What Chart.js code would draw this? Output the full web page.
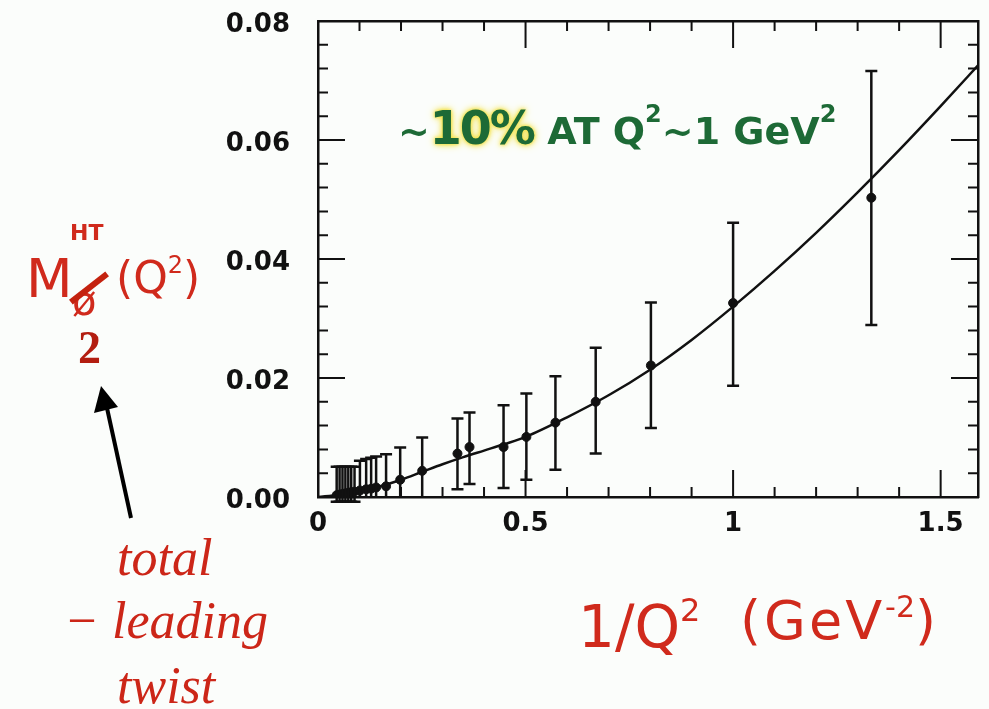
<!DOCTYPE html>
<html>
<head>
<meta charset="utf-8">
<script src="https://cdn.jsdelivr.net/npm/chart.js@4.4.1/dist/chart.umd.min.js"></script>
<style>
  html, body { margin: 0; padding: 0; background: #fbfdfb; }
  #wrap { position: relative; width: 989px; height: 709px; overflow: hidden; }
  #c { position: absolute; left: 0; top: 0; }
  .ann { position: absolute; white-space: nowrap; line-height: 1; }
  .hand { font-family: "DejaVu Sans", sans-serif; }
  .red { color: #d02a1c; }
  .it { font-family: "Liberation Serif", serif; font-style: italic; color: #cc2618; font-size: 52px; }
  .green { color: #1d6a36; font-weight: bold; }
  .hl { text-shadow: 0 0 3px #f2e24a, 0 0 5px #f2e24a, 0 0 8px #f2e24a; }
  .sup { position: relative; }
</style>
</head>
<body>
<div id="wrap">
  <canvas id="c" width="989" height="709"></canvas>

  <!-- green note in the plot -->
  <div class="ann hand green" style="left:398px; top:105px; font-size:38px;">~<span class="hl" style="font-size:46px; letter-spacing:-2px;">10%</span> AT Q<span class="sup" style="font-size:24px; top:-22px;">2</span>~1 GeV<span class="sup" style="font-size:24px; top:-22px;">2</span></div>

  <!-- y label -->
  <div class="ann hand red" style="left:26px; top:252px; font-size:54px;">M</div>
  <div class="ann hand red" style="left:70px; top:222px; font-size:22px; font-weight:bold;">HT</div>
  <div class="ann hand red" style="left:72px; top:281px; font-size:40px;">ø</div>
  <div class="ann" style="left:66px; top:285px; width:46px; height:6px; background:#c4220f; transform:rotate(-38deg); transform-origin:center;"></div>
  <div class="ann hand red" style="left:116px; top:256px; font-size:44px;">(Q<span class="sup" style="font-size:24px; top:-20px;">2</span>)</div>
  <div class="ann" style="left:78px; top:325px; font-family:'Liberation Serif', serif; font-weight:bold; font-size:46px; color:#b31d10;">2</div>

  <div class="ann it" style="left:117px; top:532px;">total</div>
  <div class="ann it" style="left:64px; top:595px;">&minus; leading</div>
  <div class="ann it" style="left:117px; top:660px;">twist</div>

  <!-- x label -->
  <div class="ann hand red" style="left:578px; top:598px; font-size:58px;">1/Q<span class="sup" style="font-size:32px; top:-26px;">2</span></div>
  <div class="ann hand red" style="left:740px; top:594px; font-size:54px; letter-spacing:3px;">(GeV<span class="sup" style="font-size:30px; top:-22px; letter-spacing:0;">-2</span>)</div>
</div>

<script>
// curve
var curveX = [0, 0.05, 0.1, 0.15, 0.2, 0.25, 0.3, 0.35, 0.4, 0.45, 0.5, 0.6, 0.7, 0.8, 0.9, 1.0, 1.1, 1.2, 1.3, 1.4, 1.5, 1.6];
var curveY = [0, 0.0004, 0.0010, 0.0018, 0.0029, 0.0042, 0.0055, 0.0067, 0.0078, 0.0089, 0.0101, 0.0134, 0.0171, 0.0214, 0.0264, 0.0320, 0.0380, 0.0444, 0.0512, 0.0583, 0.0657, 0.0733];

// data points with error bars
var pointX = [0.045, 0.052, 0.059, 0.066, 0.073, 0.080, 0.088, 0.101, 0.116, 0.128, 0.140, 0.164, 0.198, 0.251, 0.336, 0.365, 0.447, 0.502, 0.572, 0.669, 0.802, 1.0, 1.333];
var pointY = [0.0003, 0.0004, 0.0005, 0.0006, 0.0007, 0.0008, 0.0009, 0.0011, 0.0013, 0.0014, 0.0016, 0.0018, 0.0029, 0.0044, 0.0073, 0.0084, 0.0084, 0.0101, 0.0125, 0.0160, 0.0221, 0.0326, 0.0503];
var errHi = [0.0051, 0.0051, 0.0051, 0.0051, 0.0051, 0.0051, 0.0051, 0.0061, 0.0064, 0.0066, 0.0068, 0.0072, 0.0083, 0.0100, 0.0132, 0.0142, 0.0154, 0.0174, 0.0203, 0.0251, 0.0327, 0.0461, 0.0716];
var errLo = [-0.0008, -0.0008, -0.0008, -0.0008, -0.0008, -0.0008, -0.0008, 0, 0, 0, 0, 0, 0, 0, 0.0013, 0.0022, 0.0015, 0.0029, 0.0046, 0.0073, 0.0116, 0.0187, 0.0289];

// tick labels
var xTickVals = [0, 0.5, 1, 1.5];
var xTickLabels = ['0', '0.5', '1', '1.5'];
var yTickVals = [0, 0.02, 0.04, 0.06, 0.08];
var yTickLabels = ['0.00', '0.02', '0.04', '0.06', '0.08'];

function xy(xs, ys) {
	return xs.map(function(v, i) { return { x: v, y: ys[i] }; });
}

var decor = {
	id: 'decor',
	afterDatasetsDraw: function(chart) {
		var ctx = chart.ctx, a = chart.chartArea;
		var x = chart.scales.x, y = chart.scales.y;
		ctx.save();
		ctx.strokeStyle = '#111';
		ctx.lineCap = 'butt';

		// error bars
		ctx.lineWidth = 2.5;
		for (var i = 0; i < pointX.length; i++) {
			var px = x.getPixelForValue(pointX[i]);
			var t = y.getPixelForValue(errHi[i]);
			var b = y.getPixelForValue(errLo[i]);
			ctx.beginPath();
			ctx.moveTo(px, t); ctx.lineTo(px, b);
			ctx.moveTo(px - 6, t); ctx.lineTo(px + 6, t);
			if (errLo[i] !== 0) { ctx.moveTo(px - 6, b); ctx.lineTo(px + 6, b); }
			ctx.stroke();
		}

		// inward ticks on all four sides
		ctx.lineWidth = 2;
		for (var k = 1; k <= 15; k++) {
			var tx = x.getPixelForValue(k / 10);
			var len = (k % 5 === 0) ? 27 : 10;
			ctx.beginPath();
			ctx.moveTo(tx, a.bottom); ctx.lineTo(tx, a.bottom - len);
			ctx.moveTo(tx, a.top); ctx.lineTo(tx, a.top + len);
			ctx.stroke();
		}
		for (var m = 1; m < 20; m++) {
			var ty = y.getPixelForValue(m * 0.004);
			var ln = (m % 5 === 0) ? 27 : 10;
			ctx.beginPath();
			ctx.moveTo(a.left, ty); ctx.lineTo(a.left + ln, ty);
			ctx.moveTo(a.right, ty); ctx.lineTo(a.right - ln, ty);
			ctx.stroke();
		}
		ctx.restore();
	},
	afterDraw: function(chart) {
		// arrow pointing at the "2"
		var ctx = chart.ctx;
		ctx.save();
		ctx.strokeStyle = '#000';
		ctx.fillStyle = '#000';
		ctx.lineWidth = 4;
		ctx.beginPath();
		ctx.moveTo(131, 518); ctx.lineTo(107, 408);
		ctx.stroke();
		ctx.beginPath();
		ctx.moveTo(101, 386); ctx.lineTo(94, 413); ctx.lineTo(118, 407);
		ctx.closePath();
		ctx.fill();
		ctx.restore();
	}
};

var tickFont = { family: 'DejaVu Sans', weight: 'bold', size: 26 };

var myChart = new Chart(document.getElementById('c'), {
	type: 'scatter',
	data: {
		datasets: [{
			label: 'data',
			data: xy(pointX, pointY),
			pointRadius: 4.5,
			pointBackgroundColor: '#111',
			pointBorderColor: '#111',
			showLine: false
		}, {
			label: 'fit',
			data: xy(curveX, curveY),
			showLine: true,
			pointRadius: 0,
			borderColor: '#111',
			borderWidth: 2.5,
			cubicInterpolationMode: 'monotone',
			fill: false
		}]
	},
	options: {
		responsive: false,
		animation: false,
		devicePixelRatio: 1,
		layout: { padding: 0 },
		plugins: { legend: { display: false }, tooltip: { enabled: false } },
		scales: {
			x: {
				type: 'linear', position: 'bottom', min: 0, max: 1.59,
				afterFit: function(s) { s.height = 212; },
				afterBuildTicks: function(s) { s.ticks = xTickVals.map(function(v) { return { value: v }; }); },
				grid: { drawOnChartArea: false, drawTicks: false },
				border: { color: '#111', width: 2.5 },
				ticks: {
					padding: 12, color: '#111', font: tickFont, maxRotation: 0,
					callback: function(v, i) { return xTickLabels[i]; }
				}
			},
			x2: {
				type: 'linear', position: 'top', min: 0, max: 1.59,
				afterFit: function(s) { s.height = 21; },
				grid: { drawOnChartArea: false, drawTicks: false },
				border: { color: '#111', width: 2.5 },
				ticks: { display: false }
			},
			y: {
				type: 'linear', position: 'left', min: 0, max: 0.08,
				afterFit: function(s) { s.width = 318; s.paddingTop = 0; s.paddingBottom = 0; },
				afterBuildTicks: function(s) { s.ticks = yTickVals.map(function(v) { return { value: v }; }); },
				grid: { drawOnChartArea: false, drawTicks: false },
				border: { color: '#111', width: 2.5 },
				ticks: {
					padding: 28, color: '#111', font: tickFont, labelOffset: 4,
					callback: function(v, i) { return yTickLabels[i]; }
				}
			},
			y2: {
				type: 'linear', position: 'right', min: 0, max: 0.08,
				afterFit: function(s) { s.width = 11; },
				grid: { drawOnChartArea: false, drawTicks: false },
				border: { color: '#111', width: 2.5 },
				ticks: { display: false }
			}
		}
	},
	plugins: [decor]
});
</script>
</body>
</html>
